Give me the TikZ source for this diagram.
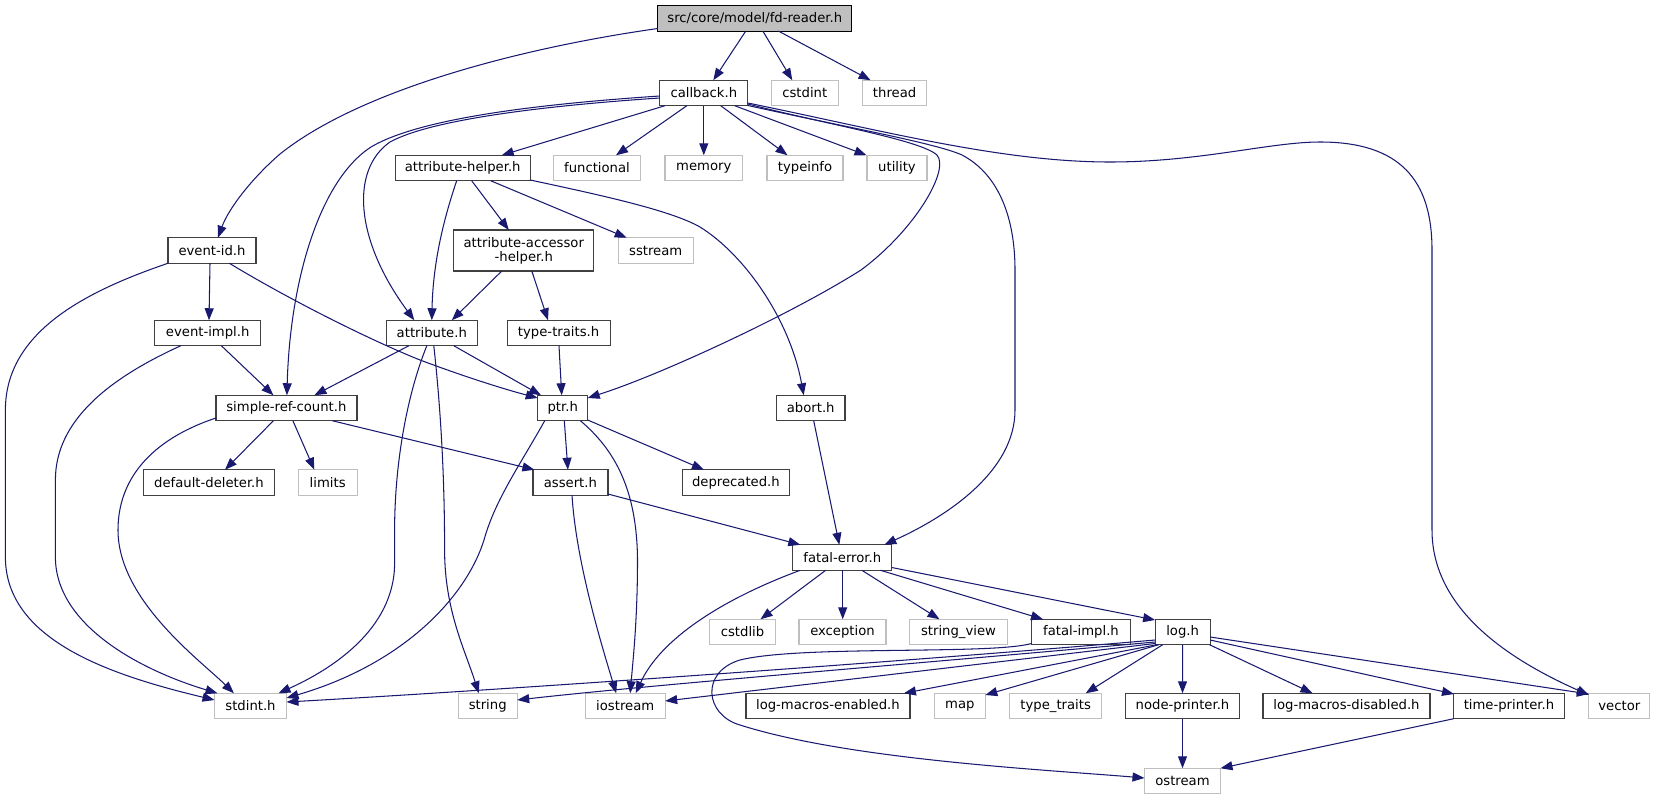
\documentclass[tikz,border=0pt]{standalone}
\usepackage{fontspec}
\setmainfont{DejaVu Sans}
\usetikzlibrary{arrows.meta,calc}
\definecolor{edgecol}{HTML}{191970}
\definecolor{docborder}{HTML}{404040}
\definecolor{extborder}{HTML}{BFBFBF}
\definecolor{rootfill}{HTML}{BFBFBF}
\begin{document}
\begin{tikzpicture}[x=1pt,y=-1pt,
  box/.style={draw=docborder, line width=1.2pt, rectangle, inner sep=0pt,
    minimum height=25.5pt, font=\fontsize{13.2}{14}\selectfont, text=black, fill=white},
  ext/.style={box, draw=extborder},
  root/.style={box, draw=black, fill=rootfill},
  edge/.style={draw=edgecol, line width=1.05pt, -{Triangle[length=12pt,width=9pt]}}]
\useasboundingbox (0,0) rectangle (1656,800);
% nodes
\node[root, minimum width=194pt] (fd) at (754.8,18.5) {src/core/model/fd-reader.h};
\node[box, minimum width=88pt] (cb) at (703.8,93) {callback.h};
\node[ext, minimum width=67pt] (cstdint) at (804.8,93) {cstdint};
\node[ext, minimum width=64pt] (thread) at (894.6,93) {thread};
\node[box, minimum width=135pt] (ah) at (462.7,168) {attribute-helper.h};
\node[ext, minimum width=87pt] (functional) at (597,168) {functional};
\node[ext, minimum width=77.5pt] (memory) at (703.8,168) {memory};
\node[ext, minimum width=76pt] (typeinfo) at (805,168) {typeinfo};
\node[ext, minimum width=60pt] (utility) at (897,168) {utility};
\node[box, minimum width=88pt] (eid) at (212,250.5) {event-id.h};
\node[box, minimum width=140pt, minimum height=41pt, align=center, font=\fontsize{13.2}{14}\selectfont] (aah) at (523.8,250.5) {attribute-accessor\\-helper.h};
\node[ext, minimum width=75pt] (sstream) at (655.7,250.5) {sstream};
\node[box, minimum width=106pt] (eimpl) at (207.7,333) {event-impl.h};
\node[box, minimum width=91pt] (attr) at (431.8,333) {attribute.h};
\node[box, minimum width=103pt] (tt) at (558.6,333) {type-traits.h};
\node[box, minimum width=141pt] (src) at (286.4,408) {simple-ref-count.h};
\node[box, minimum width=50pt] (ptr) at (562.7,408) {ptr.h};
\node[box, minimum width=68.6pt] (abort) at (810.7,408) {abort.h};
\node[box, minimum width=131pt] (dd) at (209,482.5) {default-deleter.h};
\node[ext, minimum width=59pt] (limits) at (327.7,482.5) {limits};
\node[box, minimum width=75pt] (assert) at (570.4,482.5) {assert.h};
\node[box, minimum width=107pt] (depr) at (735.9,482.5) {deprecated.h};
\node[box, minimum width=99pt] (fe) at (842.3,557.5) {fatal-error.h};
\node[ext, minimum width=66pt] (cstdlib) at (742.5,632) {cstdlib};
\node[ext, minimum width=87pt] (exception) at (842.5,632) {exception};
\node[ext, minimum width=98pt] (sv) at (958.5,632) {string\_view};
\node[box, minimum width=99pt] (fi) at (1081,632) {fatal-impl.h};
\node[box, minimum width=55pt] (log) at (1182.6,632) {log.h};
\node[ext, minimum width=72pt] (stdint) at (250.5,706) {stdint.h};
\node[ext, minimum width=59pt] (string) at (487.7,706) {string};
\node[ext, minimum width=80pt] (iostream) at (625.2,706) {iostream};
\node[box, minimum width=164pt] (lme) at (827.9,706) {log-macros-enabled.h};
\node[ext, minimum width=51pt] (map) at (959.8,706) {map};
\node[ext, minimum width=92pt] (typetraits) at (1055.7,706) {type\_traits};
\node[box, minimum width=114pt] (np) at (1182.5,706) {node-printer.h};
\node[box, minimum width=167pt] (lmd) at (1346.5,706) {log-macros-disabled.h};
\node[box, minimum width=111pt] (tp) at (1509,706) {time-printer.h};
\node[ext, minimum width=61pt] (vector) at (1619.3,706) {vector};
\node[ext, minimum width=76pt] (ostream) at (1182.5,781) {ostream};
% edges
\draw[edge] ($(fd)+(-97,10)$) .. controls (520,48) and (360,90) .. (280,154) .. controls (250,180) and (228,210) .. ($(eid)+(6,-12.75)$);
\draw[edge] ($(fd)+(-9,12.5)$) -- ($(cb)+(9.5,-12.75)$);
\draw[edge] ($(fd)+(8,12.5)$) -- ($(cstdint)+(-12.5,-12.75)$);
\draw[edge] ($(fd)+(23.5,12.5)$) -- ($(thread)+(-24,-12.75)$);
\draw[edge] ($(cb)+(-39,12.75)$) -- ($(ah)+(39,-12.75)$);
\draw[edge] ($(cb)+(-17,12.75)$) -- ($(functional)+(19,-12.75)$);
\draw[edge] ($(cb)+(0,12.75)$) -- ($(memory)+(0,-12.75)$);
\draw[edge] ($(cb)+(17,12.75)$) -- ($(typeinfo)+(-17.5,-12.75)$);
\draw[edge] ($(cb)+(31,12.75)$) -- ($(utility)+(-30.5,-12.75)$);
\draw[edge] ($(cb)+(-44,3)$) .. controls (540,104) and (420,118) .. (371,147) .. controls (320,180) and (290,280) .. ($(src)+(0.5,-12.75)$);
\draw[edge] ($(cb)+(-44,5)$) .. controls (540,106) and (430,120) .. (390,142) .. controls (350,170) and (355,240) .. ($(attr)+(-17.5,-12.75)$);
\draw[edge] ($(cb)+(44,11)$) .. controls (830,125) and (920,140) .. (937,155) .. controls (950,170) and (915,230) .. (861,270) .. controls (790,315) and (660,375) .. ($(ptr)+(25,-10)$);
\draw[edge] ($(cb)+(44,12.5)$) .. controls (850,128) and (935,143) .. (962,155) .. controls (1000,175) and (1015,220) .. (1015,270) -- (1015,410) .. controls (1015,470) and (950,515) .. ($(fe)+(42,-12.75)$);
\draw[edge] ($(cb)+(44,10)$) .. controls (880,130) and (1000,162) .. (1110,162) .. controls (1200,162) and (1270,142) .. (1320,142) .. controls (1400,142) and (1432,180) .. (1432,250) -- (1432,530) .. controls (1432,610) and (1510,660) .. ($(vector)+(-30.5,-11)$);
\draw[edge] ($(ah)+(9,12.75)$) -- ($(aah)+(-15,-20.5)$);
\draw[edge] ($(ah)+(-6,12.75)$) .. controls (445,215) and (433,260) .. ($(attr)+(0,-12.75)$);
\draw[edge] ($(ah)+(28,12.75)$) -- ($(sstream)+(-29,-12.75)$);
\draw[edge] ($(ah)+(67.5,12)$) .. controls (600,195) and (670,210) .. (700,227) .. controls (745,255) and (790,320) .. ($(abort)+(-7,-12.75)$);
\draw[edge] ($(eid)+(-2,12.75)$) -- ($(eimpl)+(1.3,-12.75)$);
\draw[edge] ($(eid)+(-44,12.75)$) .. controls (90,290) and (5.4,330) .. (5.4,410) -- (5.4,557) .. controls (5.4,640) and (110,675) .. ($(stdint)+(-36,-6)$);
\draw[edge] ($(eid)+(17.3,12.75)$) .. controls (290,300) and (370,340) .. (420,360) .. controls (460,375) and (500,388) .. ($(ptr)+(-25,-10)$);
\draw[edge] ($(aah)+(-22,20.5)$) -- ($(attr)+(20,-12.75)$);
\draw[edge] ($(aah)+(8,20.5)$) -- ($(tt)+(-10.6,-12.75)$);
\draw[edge] ($(eimpl)+(13.7,12.75)$) -- ($(src)+(-13,-12.75)$);
\draw[edge] ($(eimpl)+(-27,12.75)$) .. controls (110,378) and (55.4,420) .. (55.4,480) -- (55.4,557) .. controls (55.4,625) and (140,670) .. ($(stdint)+(-33,-12.75)$);
\draw[edge] ($(attr)+(-23,12.75)$) -- ($(src)+(28,-12.75)$);
\draw[edge] ($(attr)+(22,12.75)$) -- ($(ptr)+(-21.7,-12.75)$);
\draw[edge] ($(attr)+(-5,12.75)$) .. controls (405,400) and (394.6,470) .. (394.6,530) -- (394.6,563) .. controls (394.6,630) and (330,670) .. ($(stdint)+(28,-12.75)$);
\draw[edge] ($(attr)+(2,12.75)$) .. controls (442,420) and (444.6,490) .. (444.6,550) .. controls (444.6,610) and (465,650) .. ($(string)+(-9,-12.75)$);
\draw[edge] ($(tt)+(0.4,12.75)$) -- ($(ptr)+(-1,-12.75)$);
\draw[edge] ($(src)+(-13,12.75)$) -- ($(dd)+(16,-12.75)$);
\draw[edge] ($(src)+(6.5,12.75)$) -- ($(limits)+(-13.4,-12.75)$);
\draw[edge] ($(src)+(46,12.75)$) -- ($(assert)+(-36,-12.75)$);
\draw[edge] ($(src)+(-70.5,10)$) .. controls (150,440) and (118,480) .. (118,530) .. controls (118,600) and (200,660) .. ($(stdint)+(-16.6,-12.75)$);
\draw[edge] ($(ptr)+(1.6,12.75)$) -- ($(assert)+(-2.5,-12.75)$);
\draw[edge] ($(ptr)+(25,12)$) -- ($(depr)+(-32,-12.75)$);
\draw[edge] ($(ptr)+(17.7,12.75)$) .. controls (615,450) and (637,490) .. (637.5,560) .. controls (637.5,620) and (633,660) .. ($(iostream)+(5,-12.75)$);
\draw[edge] ($(ptr)+(-18,12.75)$) .. controls (520,465) and (495,500) .. (484,540) .. controls (465,600) and (400,665) .. ($(stdint)+(36,-8)$);
\draw[edge] ($(abort)+(3,12.75)$) -- ($(fe)+(-3,-12.75)$);
\draw[edge] ($(assert)+(37.5,11.5)$) -- ($(fe)+(-42,-12.75)$);
\draw[edge] ($(assert)+(1.6,12.75)$) .. controls (576,560) and (600,640) .. ($(iostream)+(-9,-12.75)$);
\draw[edge] ($(fe)+(-16.6,12.75)$) -- ($(cstdlib)+(18,-12.75)$);
\draw[edge] ($(fe)+(0.4,12.75)$) -- ($(exception)+(0.2,-12.75)$);
\draw[edge] ($(fe)+(19.5,12.75)$) -- ($(sv)+(-19,-12.75)$);
\draw[edge] ($(fe)+(38,12.75)$) -- ($(fi)+(-38,-12.75)$);
\draw[edge] ($(fe)+(49.5,10)$) -- ($(log)+(-27.5,-12)$);
\draw[edge] ($(fe)+(-42,12.75)$) .. controls (720,600) and (660,640) .. ($(iostream)+(10.5,-12.75)$);
\draw[edge] ($(fi)+(-49.5,11.5)$) .. controls (990,655) and (800,645) .. (740,660) .. controls (700,672) and (705,715) .. (740,725) .. controls (850,760) and (1050,770) .. ($(ostream)+(-38,-3)$);
\draw[edge] ($(log)+(-27.5,8)$) .. controls (900,662) and (500,690) .. ($(stdint)+(36,-4)$);
\draw[edge] ($(log)+(-27.5,10)$) .. controls (900,665) and (650,685) .. ($(string)+(29.5,-6)$);
\draw[edge] ($(log)+(-27.5,11.5)$) -- ($(iostream)+(40,-5)$);
\draw[edge] ($(log)+(-26,12.75)$) -- ($(lme)+(76,-12.75)$);
\draw[edge] ($(log)+(-24,12.75)$) -- ($(map)+(25.5,-11)$);
\draw[edge] ($(log)+(-20,12.75)$) -- ($(typetraits)+(30,-12.75)$);
\draw[edge] ($(log)+(0,12.75)$) -- ($(np)+(0,-12.75)$);
\draw[edge] ($(log)+(27,12.75)$) -- ($(lmd)+(-34,-12.75)$);
\draw[edge] ($(log)+(27.5,8)$) -- ($(tp)+(-55,-12)$);
\draw[edge] ($(log)+(27.5,5)$) -- ($(vector)+(-30.5,-12)$);
\draw[edge] ($(np)+(0,12.75)$) -- ($(ostream)+(0,-12.75)$);
\draw[edge] ($(tp)+(-55.5,12.75)$) -- ($(ostream)+(38,-12.75)$);
\end{tikzpicture}
\end{document}
